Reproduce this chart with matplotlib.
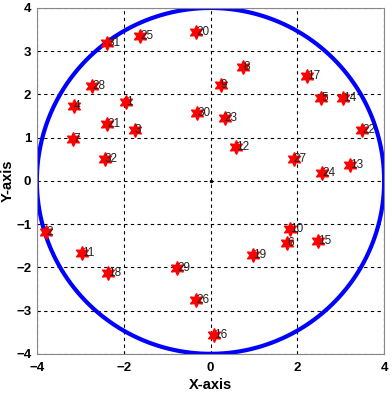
import numpy as np
import matplotlib.pyplot as plt

plt.rcParams['font.family'] = ['Liberation Sans', 'DejaVu Sans']

# node positions
node_x = [-2.38, -1.62, -0.33, 0.75, 0.24, 2.22, 2.55, 3.05, 3.49, 0.33,
          0.59, 1.92, 2.57, 3.21, -0.31, -2.73, -1.95, -3.14, -2.38, -1.74,
          -3.17, -2.43, -3.79, -2.96, -2.36, -0.77, -0.33, 0.08, 0.98, 1.83,
          1.77, 2.48]
node_y = [3.19, 3.35, 3.45, 2.64, 2.22, 2.43, 1.92, 1.92, 1.18, 1.46,
          0.79, 0.51, 0.18, 0.37, 1.58, 2.20, 1.83, 1.73, 1.32, 1.18,
          0.97, 0.51, -1.18, -1.66, -2.12, -2.01, -2.75, -3.56, -1.71, -1.11,
          -1.43, -1.39]
node_id = ['31', '25', '20', '8', '9', '17', '5', '14', '22', '23',
           '12', '27', '24', '13', '30', '28', '1', '4', '21', '3',
           '7', '32', '2', '11', '18', '29', '26', '16', '19', '10',
           '6', '15']
radius = 4

fig = plt.figure(figsize=(3.92, 3.98), dpi=100)
ax = fig.add_axes([0.094, 0.111, 0.886, 0.869])

t = np.linspace(0, 2 * np.pi, 400)
ax.plot(radius * np.cos(t), radius * np.sin(t), color='#0000ff', lw=3, zorder=2)
ax.plot(0, 0, 'k.', ms=3, zorder=3)

ax.plot(node_x, node_y, linestyle='none', marker=(6, 1, 0), ms=10,
        mfc='red', mec='red', zorder=4)
for x, y, s in zip(node_x, node_y, node_id):
    ax.text(x, y, s, fontsize=8.5, color='#222222', ha='left', va='center', zorder=5)

ax.set_xlim(-4, 4)
ax.set_ylim(-4, 4)
ax.set_xticks([-4, -2, 0, 2, 4])
ax.set_yticks(np.arange(-4, 5, 1))
ax.grid(True, color='black', linestyle=(0, (3, 3)), lw=0.8)
ax.tick_params(direction='in', labelsize=9.5, length=0)
ax.tick_params(axis='x', pad=6)
ax.tick_params(axis='y', pad=4)
for lbl in ax.get_xticklabels() + ax.get_yticklabels():
    lbl.set_fontweight('bold')
for sp in ax.spines.values():
    sp.set_color('#888888')
ax.set_xlabel('X-axis', fontsize=10.5, fontweight='bold', labelpad=3)
ax.set_ylabel('Y-axis', fontsize=10.5, fontweight='bold', labelpad=1)

fig.savefig('out.png', dpi=100)
